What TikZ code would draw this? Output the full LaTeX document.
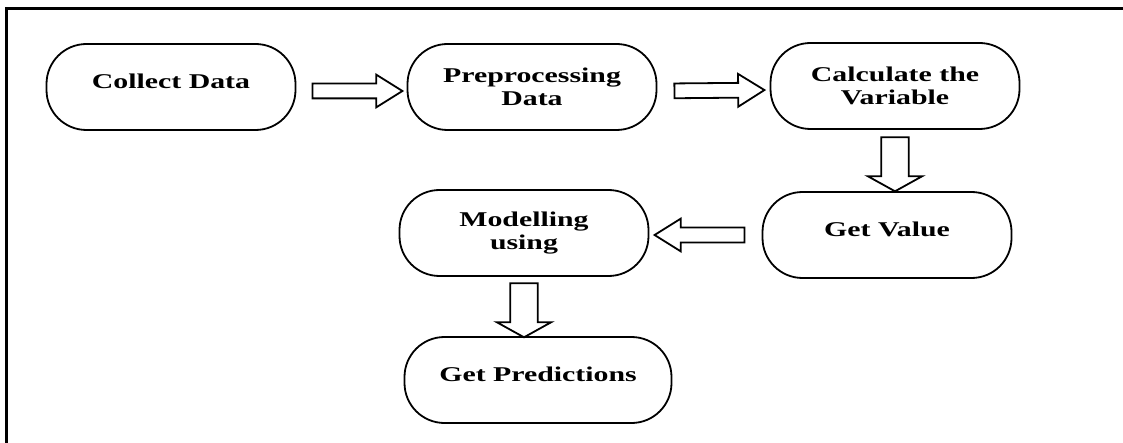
\documentclass[tikz,border=0pt]{standalone}
\usepackage{fontspec}
\newfontfamily\boxfont[FakeStretch=1.42]{Liberation Serif}
\usepackage{tikz}
\usetikzlibrary{shapes.arrows,calc}
\tikzset{stage/.style={draw, line width=0.9pt, rounded corners=20pt,
  minimum width=124.5pt, minimum height=43pt, inner sep=0pt, align=center,
  font=\boxfont\bfseries\fontsize{10.5}{11.5}\selectfont}}
\tikzset{
  oneline/.style={text depth=6pt},
  fatarrow/.style={single arrow, draw, line width=0.9pt, sloped, allow upside down,
    inner xsep=0pt, single arrow head indent=0pt},
  hfat/.style={fatarrow, inner ysep=3.25pt, single arrow head extend=4.5pt,
    single arrow tip angle=64, minimum height=45pt},
  vfat/.style={fatarrow, inner ysep=6.4pt, single arrow head extend=6.8pt,
    single arrow tip angle=122, minimum height=27pt},
  frameline/.style={line width=1.5pt}
}

\begin{document}
\begin{tikzpicture}[x=0.5pt, y=-0.5pt]
\useasboundingbox (0,0) rectangle (1123,443);
\draw[frameline] (6,443) -- (6,9) -- (1123,9);

\node[stage, oneline](collect) at (171,87)
{Collect Data};

\node[stage](prep) at (532,87)
{Preprocessing\\Data};

\node[stage](calc) at (895,86)
{Calculate the\\Variable};

\node[stage, oneline](value) at (887,235)
{Get Value};

\node[stage](model) at (524,233)
{Modelling\\using};

\node[stage, oneline, minimum width=133.5pt](pred) at (538,380)
{Get Predictions};

\path ([yshift=-2pt]collect.east) -- node[hfat] {} ([yshift=-2pt]prep.west);

\path ([yshift=-2pt]prep.east) -- node[hfat] {} ([yshift=-2pt]calc.west);

\path (calc.south) -- node[vfat] {} (calc.south |- value.north);

\path (value.west) -- node[hfat] {} (value.west -| model.east);

\path (model.south) -- node[vfat] {} (model.south |- pred.north);
\end{tikzpicture}
\end{document}
